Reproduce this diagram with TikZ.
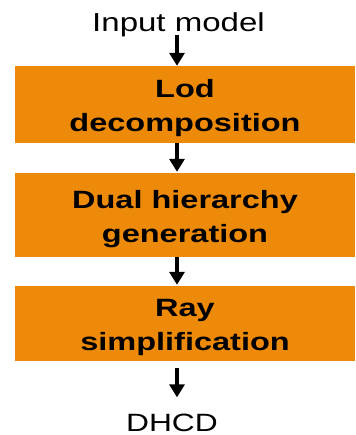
\documentclass[tikz,border=0pt]{standalone}
\usepackage{fontspec}
\setmainfont{Liberation Sans}
\newfontfamily\widefont[FakeStretch=1.27]{Liberation Sans}
\newfontfamily\widebold[FakeStretch=1.3]{Liberation Sans Bold}
\usetikzlibrary{arrows.meta}
\definecolor{stageorange}{HTML}{EE8A0A}
\begin{document}
\begin{tikzpicture}[x=1bp,y=-1bp,
  stagebox/.style={fill=stageorange, draw=none, inner sep=0pt,
    minimum width=340bp, align=center, text height=54bp, text depth=0pt,
    font=\widebold\fontsize{25bp}{34bp}\selectfont},
  plainlabel/.style={inner sep=0pt, anchor=base,
    font=\widefont\fontsize{26bp}{30bp}\selectfont},
  flowarrow/.style={line width=4bp,
    -{Triangle[width=15bp,length=13bp]}}]
  \useasboundingbox (0,0) rectangle (355,435);
  \coordinate (axis) at (177,0);
  % input and output labels
  \node[plainlabel] (input) at (178.5,32) {Input model};
  \node[plainlabel, font=\widefont\fontsize{25bp}{30bp}\selectfont] (output) at (172,431) {DHCD};
  % processing stages
  \node[stagebox, minimum height=77bp] (lod) at (185,104.5) {Lod\\decomposition};
  \node[stagebox, minimum height=84bp] (dual) at (185,215) {Dual hierarchy\\generation};
  \node[stagebox, minimum height=75bp] (ray) at (185,323.5) {Ray\\simplification};
  % flow arrows
  \draw[flowarrow, shorten <=-2.5bp] (input.south -| axis) -- (lod.north -| axis);
  \draw[flowarrow] (lod.south -| axis) -- ([yshift=1bp]dual.north -| axis);
  \draw[flowarrow] (dual.south -| axis) -- ([yshift=1bp]ray.north -| axis);
  \draw[flowarrow, shorten <=7bp, shorten >=16bp] (ray.south -| axis) -- (output.north -| axis);
\end{tikzpicture}
\end{document}
